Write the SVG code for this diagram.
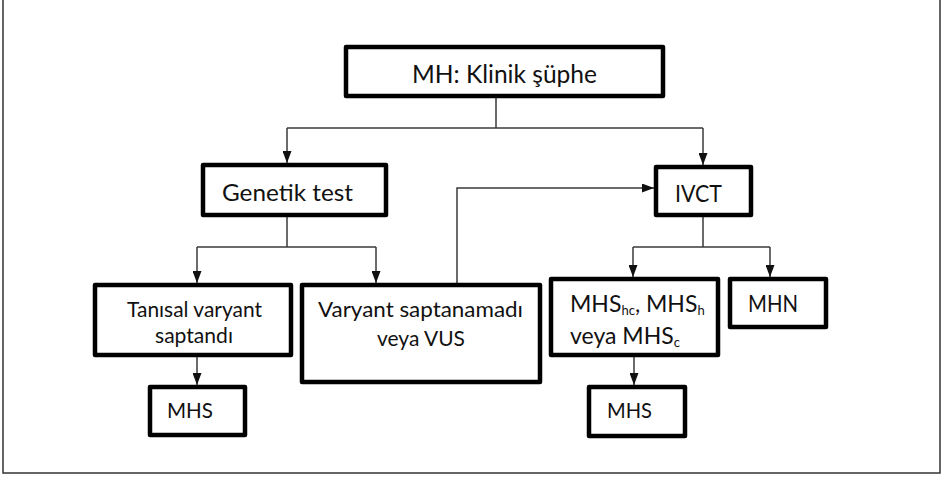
<svg xmlns="http://www.w3.org/2000/svg" width="944" height="477" viewBox="0 0 944 477">
<defs>
<marker id="ah" viewBox="0 0 12 9" refX="12" refY="4.5" markerWidth="12" markerHeight="9" markerUnits="userSpaceOnUse" orient="auto">
<path d="M0,0 L12,4.5 L0,9 z" fill="#111"/>
</marker>
<style>
.box{fill:#fff;stroke:#000;stroke-width:4.5;stroke-linejoin:round}
.t{font-family:Lato,"Liberation Sans",sans-serif;fill:#111}
.c{fill:none;stroke:#3a3a3a;stroke-width:1.5}
.ca{fill:none;stroke:#3a3a3a;stroke-width:1.5;marker-end:url(#ah)}
</style>
</defs>
<rect width="944" height="477" fill="#fff"/>
<rect x="3" y="-3" width="937" height="476" fill="none" stroke="#333" stroke-width="1.5"/>
<g id="connectors">
<path class="c" d="M496,98 V128 M287,128 H703"/>
<path class="ca" d="M287,128 V163"/>
<path class="ca" d="M703,128 V165"/>
<path class="c" d="M287,217 V247 M197,247 H376"/>
<path class="ca" d="M197,247 V283"/>
<path class="ca" d="M376,247 V283"/>
<path class="ca" d="M457,283 V188 H654"/>
<path class="c" d="M703,217 V247 M633,247 H770"/>
<path class="ca" d="M633,247 V277"/>
<path class="ca" d="M770,247 V277"/>
<path class="ca" d="M197,357 V385"/>
<path class="ca" d="M634,357 V385"/>
</g>
<g id="n-klinik">
<rect class="box" x="346" y="47" width="317" height="49"/>
<text class="t" x="412" y="83" font-size="25" textLength="185" lengthAdjust="spacingAndGlyphs">MH: Klinik şüphe</text>
</g>
<g id="n-genetik">
<rect class="box" x="203" y="165" width="183" height="50"/>
<text class="t" x="222" y="201" font-size="24" textLength="131" lengthAdjust="spacingAndGlyphs">Genetik test</text>
</g>
<g id="n-ivct">
<rect class="box" x="656" y="167" width="95" height="48"/>
<text class="t" x="675" y="202" font-size="24" textLength="47" lengthAdjust="spacingAndGlyphs">IVCT</text>
</g>
<g id="n-tanisal">
<rect class="box" x="95" y="285" width="196" height="70"/>
<text class="t" x="127" y="317" font-size="21" textLength="135" lengthAdjust="spacingAndGlyphs">Tanısal varyant</text>
<text class="t" x="155" y="343" font-size="21" textLength="78" lengthAdjust="spacingAndGlyphs">saptandı</text>
</g>
<g id="n-varyant">
<rect class="box" x="302" y="285" width="238" height="97"/>
<text class="t" x="318" y="317" font-size="22" textLength="205" lengthAdjust="spacingAndGlyphs">Varyant saptanamadı</text>
<text class="t" x="377" y="346" font-size="22" textLength="88" lengthAdjust="spacingAndGlyphs">veya VUS</text>
</g>
<g id="n-mhs-left">
<rect class="box" x="150" y="387" width="95" height="48"/>
<text class="t" x="167" y="418" font-size="21" textLength="46" lengthAdjust="spacingAndGlyphs">MHS</text>
</g>
<g id="n-mhshc">
<rect class="box" x="551" y="279" width="167" height="76"/>
<text class="t" x="570" y="312" font-size="23">MHS<tspan font-size="13" dy="3">hc</tspan><tspan dy="-3">, MHS</tspan><tspan font-size="13" dy="3">h</tspan></text>
<text class="t" x="570" y="344" font-size="23">veya MHS<tspan font-size="13" dy="3">c</tspan></text>
</g>
<g id="n-mhn">
<rect class="box" x="730" y="279" width="96" height="48"/>
<text class="t" x="748" y="312" font-size="23" textLength="50" lengthAdjust="spacingAndGlyphs">MHN</text>
</g>
<g id="n-mhs-right">
<rect class="box" x="589" y="387" width="96" height="49"/>
<text class="t" x="607" y="418" font-size="21" textLength="45" lengthAdjust="spacingAndGlyphs">MHS</text>
</g>
</svg>
